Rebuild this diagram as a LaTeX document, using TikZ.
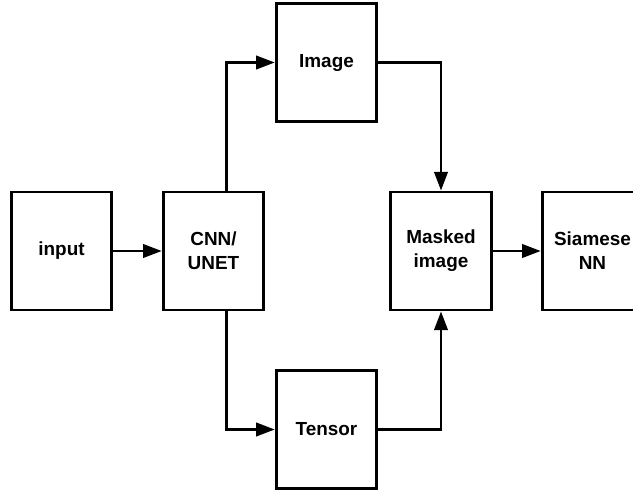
\documentclass[tikz,border=0pt]{standalone}
\usepackage{fontspec}
\setmainfont{Liberation Sans}
\usetikzlibrary{positioning, arrows.meta}

\begin{document}
\begin{tikzpicture}[
  x=0.75pt, y=-0.75pt,
  font=\fontsize{14.2}{18}\selectfont\bfseries,
  every node/.style={align=center},
  flow/.style={-{Triangle[length=14pt,width=10pt]}, draw=black, line width=2.1pt},
  block/.style={draw=black, line width=2.1pt, fill=white, inner sep=2pt,
                minimum width=75.5pt, minimum height=88.5pt},
]
\useasboundingbox (0,0) rectangle (633,492);
\clip (0,0) rectangle (633,492);

% ---------- main row ----------
\node[block] (input) at (61.5,251) {input};
\node[block] (cnn) at (213.5,251) {CNN/\\UNET};
\node[block] (masked) at (441,251) {Masked\\image};
\node[block] (siamese) at (592.5,251) {Siamese\\NN};

% ---------- branches ----------
\node[block] (image) at (326.5,62.5) {Image};
\node[block] (tensor) at (326.5,429.5) {Tensor};

% ---------- arrows ----------
\draw[flow] (input.east) -- (cnn.west);
\draw[flow] ([xshift=10pt]cnn.north) |- (image.west);
\draw[flow] ([xshift=10pt]cnn.south) |- (tensor.west);
\draw[flow] (image.east) -| (masked.north);
\draw[flow] (tensor.east) -| (masked.south);
\draw[flow] (masked.east) -- (siamese.west);

\end{tikzpicture}
\end{document}
